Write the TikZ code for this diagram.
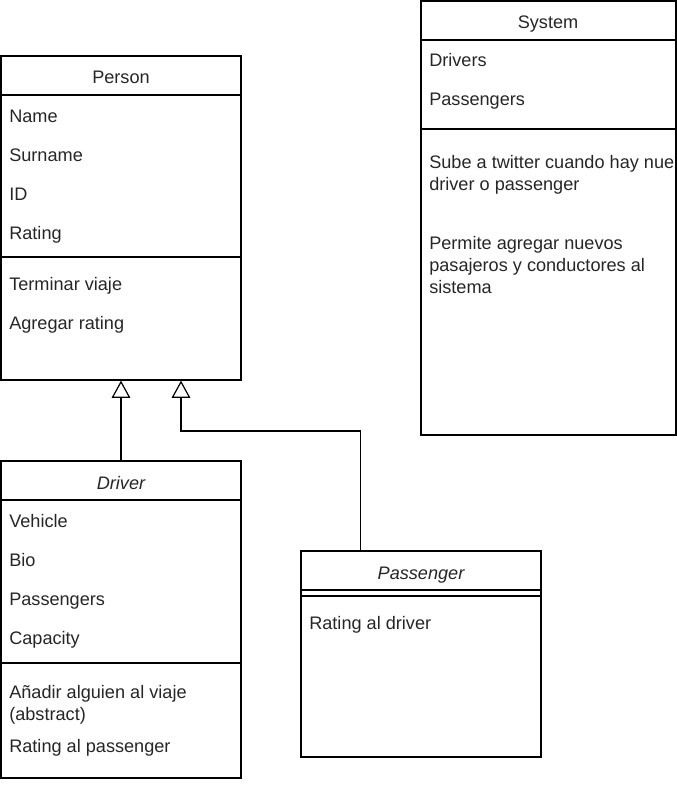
\documentclass[tikz,border=0pt]{standalone}
\usepackage{fontspec}
\setmainfont{Liberation Sans}
\usetikzlibrary{positioning, arrows.meta, fit, calc}

\begin{document}
\begin{tikzpicture}[x=0.75pt, y=-0.75pt,
  classbox/.style={draw, line width=0.9pt, inner sep=0pt},
  member/.style={anchor=base west, inner sep=0pt, align=left, text=black!85,
    font=\fontsize{13.6}{16.5}\selectfont},
  title/.style={anchor=base, inner sep=0pt, text=black!85,
    font=\fontsize{13.6}{16.5}\selectfont},
  inherit/.style={line width=0.9pt, -{Triangle[open, length=13pt, width=14pt, fill=white]}}]
\useasboundingbox (0,0) rectangle (677,785);
% Person
\node[classbox, fit={(1,56) (241,380)}] (person) {};
\draw[line width=0.9pt] (person.west |- 0,95) -- (person.east |- 0,95);
\draw[line width=0.9pt] (person.west |- 0,257) -- (person.east |- 0,257);
\node[title] (person-t) at (121,83) {Person};
\node[member] (name) at (9,122) {Name};
\node[member] (surname) at (9,161) {Surname};
\node[member] (id) at (9,200) {ID};
\node[member] (rating) at (9,239) {Rating};
\node[member] (terminar) at (9,290) {Terminar viaje};
\node[member] (agregar) at (9,329) {Agregar rating};
% System
\node[classbox, fit={(421,1) (676,435)}] (system) {};
\draw[line width=0.9pt] (system.west |- 0,40) -- (system.east |- 0,40);
\draw[line width=0.9pt] (system.west |- 0,129) -- (system.east |- 0,129);
\node[title] (system-t) at (548,28) {System};
\node[member] (drivers) at (429,66) {Drivers};
\node[member] (passengers) at (429,105) {Passengers};
\begin{scope}
\clip (421,0) rectangle (676,435);
\node[member] (sube) at (429,190) {Sube a twitter cuando hay nue\\driver o passenger};
\node[member] (permite) at (429,293) {Permite agregar nuevos\\pasajeros y conductores al\\sistema};
\end{scope}
% Driver
\node[classbox, fit={(1,461) (241,778)}] (driver) {};
\draw[line width=0.9pt] (driver.west |- 0,500) -- (driver.east |- 0,500);
\draw[line width=0.9pt] (driver.west |- 0,663) -- (driver.east |- 0,663);
\node[title] (driver-t) at (121,489) {\itshape Driver};
\node[member] (vehicle) at (9,527) {Vehicle};
\node[member] (bio) at (9,566) {Bio};
\node[member] (dpassengers) at (9,605) {Passengers};
\node[member] (capacity) at (9,644) {Capacity};
\node[member] (anadir) at (9,720) {Añadir alguien al viaje\\(abstract)};
\node[member] (ratingp) at (9,752) {Rating al passenger};
% Passenger
\node[classbox, fit={(301,551) (541,757)}] (passenger) {};
\draw[line width=0.9pt] (passenger.west |- 0,590) -- (passenger.east |- 0,590);
\draw[line width=0.9pt] (passenger.west |- 0,596) -- (passenger.east |- 0,596);
\node[title] (passenger-t) at (421,579) {\itshape Passenger};
\node[member] (ratingd) at (309,629) {Rating al driver};
% Inheritance
\draw[inherit] (driver.north) -- (person.south);
\coordinate (bend) at (181,431);
\draw[inherit] ($(passenger.north west)!.25!(passenger.north east)$) |- (bend) -- (bend |- person.south);
\end{tikzpicture}
\end{document}
